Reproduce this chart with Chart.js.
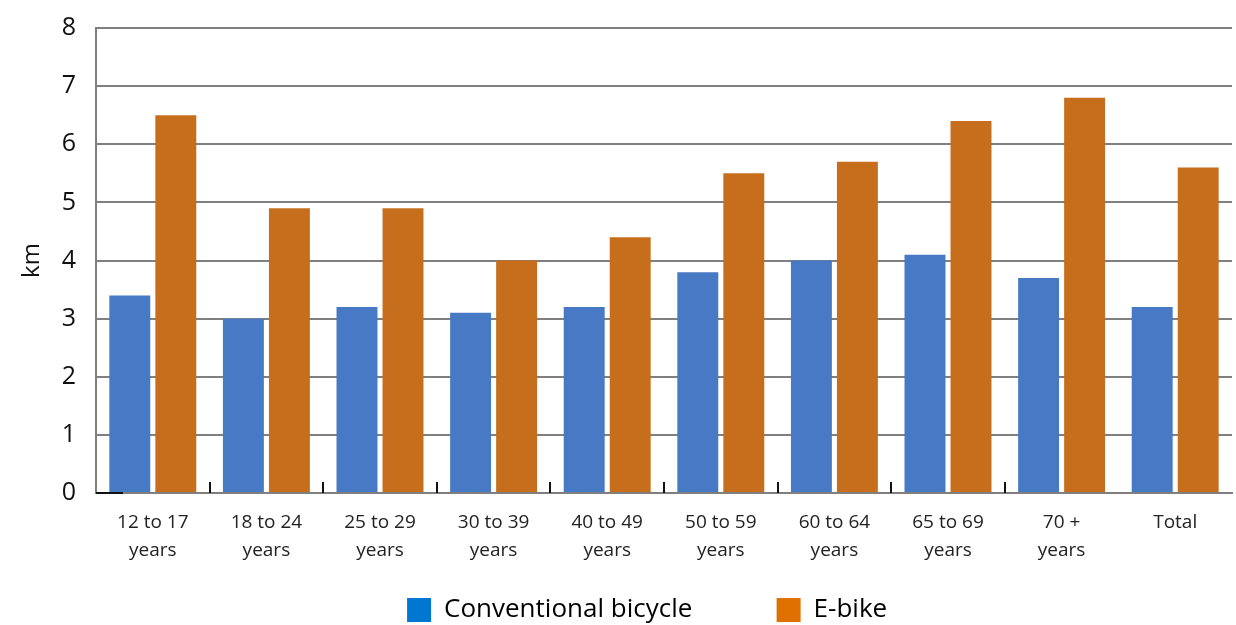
<!DOCTYPE html>
<html>
<head>
<meta charset="utf-8">
<script src="https://cdn.jsdelivr.net/npm/chart.js@4"></script>
<style>
  html, body { margin: 0; padding: 0; background: #fff; }
  #wrap { width: 1236px; height: 625px; }
</style>
</head>
<body>
<div id="wrap"><canvas id="myChart" width="1236" height="625"></canvas></div>
<script>
const ageGroups = [
  ["12 to 17", "years"],
  ["18 to 24", "years"],
  ["25 to 29", "years"],
  ["30 to 39", "years"],
  ["40 to 49", "years"],
  ["50 to 59", "years"],
  ["60 to 64", "years"],
  ["65 to 69", "years"],
  ["70 +", "years"],
  "Total",
];
const conventionalKm = [3.4, 3.0, 3.2, 3.1, 3.2, 3.8, 4.0, 4.1, 3.7, 3.2];
const ebikeKm = [6.5, 4.9, 4.9, 4.0, 4.4, 5.5, 5.7, 6.4, 6.8, 5.6];
const yTicks = [0, 1, 2, 3, 4, 5, 6, 7, 8];

const ctx = document.getElementById("myChart");

// small upward ticks between the age groups (not before Total)
const innerTicks = {
  id: "innerTicks",
  afterDatasetsDraw(chart) {
    const x = chart.scales.x;
    const y = chart.scales.y;
    const c = chart.ctx;
    const base = y.getPixelForValue(0);
    c.save();
    c.strokeStyle = "#111";
    c.lineWidth = 2;
    for (let i = 0; i < 8; i++) {
      const px = Math.round((x.getPixelForValue(i) + x.getPixelForValue(i + 1)) / 2);
      c.beginPath();
      c.moveTo(px, base);
      c.lineTo(px, base - 11);
      c.stroke();
    }
    // dark stub at the origin
    c.beginPath();
    c.moveTo(x.left, base);
    c.lineTo(x.left + 27, base);
    c.stroke();
    c.restore();
  },
};

const fontFam = "'Open Sans', sans-serif";

new Chart(ctx, {
  type: "bar",
  data: {
    labels: ageGroups,
    datasets: [
      {
        label: "Conventional bicycle",
        data: conventionalKm,
        backgroundColor: "#4779C4",
        categoryPercentage: 0.81,
        barPercentage: 0.89,
      },
      {
        label: "E-bike",
        data: ebikeKm,
        backgroundColor: "#C66E1C",
        categoryPercentage: 0.81,
        barPercentage: 0.89,
      },
    ],
  },
  options: {
    responsive: false,
    animation: false,
    layout: { padding: { top: 28, right: 4, left: 0, bottom: -8 } },
    plugins: {
      tooltip: { enabled: false },
      legend: {
        position: "bottom",
        fullSize: false,
        labels: {
          generateLabels(chart) {
            const cols = ["#0078D2", "#E07000"];
            const gaps = ["           ", "     "];
            return chart.data.datasets.map((d, i) => ({
              text: d.label + gaps[i],
              fillStyle: cols[i],
              strokeStyle: cols[i],
              lineWidth: 0,
              datasetIndex: i,
            }));
          },
          boxWidth: 24,
          boxHeight: 24,
          padding: 10,
          color: "#111",
          font: { family: fontFam, size: 26, lineHeight: 1 },
        },
      },
    },
    scales: {
      x: {
        grid: { display: false },
        border: { display: true, color: "#7f7f7f", width: 2 },
        ticks: {
          color: "#222",
          font: { family: fontFam, size: 19, lineHeight: 1.5 },
          padding: 7,
          maxRotation: 0,
        },
        afterFit(s) { s.height = 94; },
      },
      y: {
        min: 0,
        max: 8,
        afterBuildTicks(s) { s.ticks = yTicks.map((v) => ({ value: v })); },
        grid: { color: "#7f7f7f", lineWidth: 2, drawTicks: false },
        border: { display: true, color: "#7f7f7f", width: 2 },
        ticks: {
          color: "#111",
          font: { family: fontFam, size: 25 },
          padding: 20,
        },
        title: {
          display: true,
          text: "km",
          color: "#111",
          font: { family: fontFam, size: 24 },
          padding: { top: 18, bottom: 0 },
        },
        afterFit(s) {
          s.width = 96;
          s.paddingTop = 0;
          s.paddingBottom = 0;
        },
      },
    },
  },
  plugins: [innerTicks],
});
</script>
</body>
</html>
